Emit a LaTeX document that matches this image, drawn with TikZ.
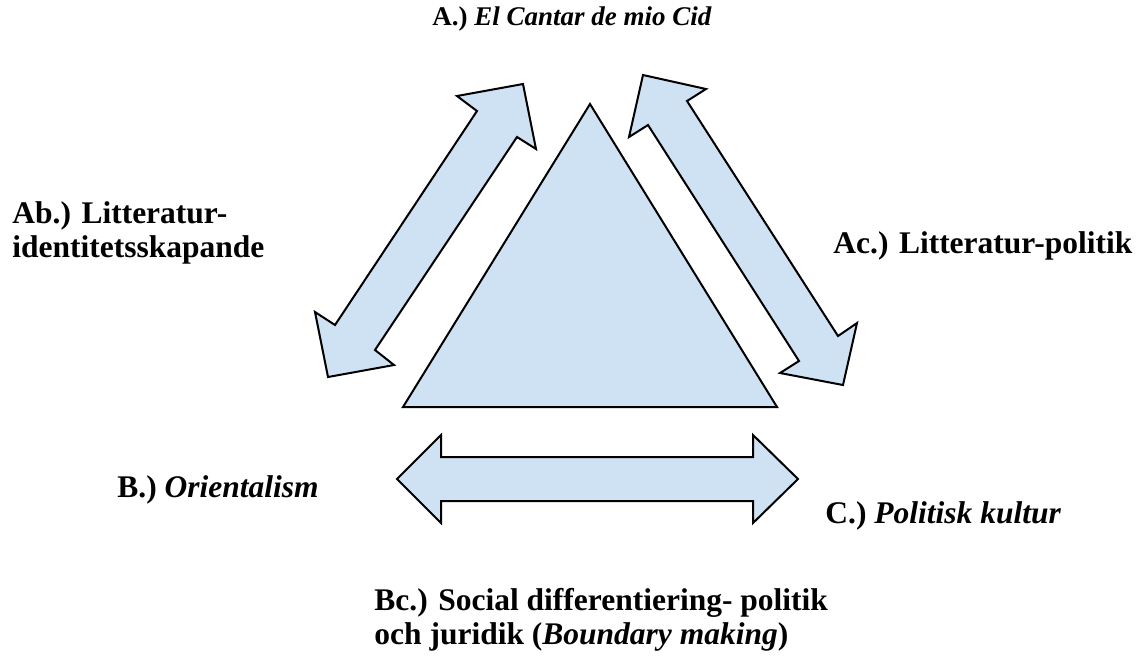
\documentclass[tikz,border=0pt]{standalone}
\usepackage{fontspec}
\setmainfont{Liberation Serif}
\definecolor{lightblue}{HTML}{CFE2F3}

\begin{document}
\begin{tikzpicture}[
    x=0.5pt, y=-0.5pt,
    bluefill/.style={draw=black, fill=lightblue, line width=1pt, line join=miter},
    labeltext/.style={inner sep=0pt, align=left, font=\fontsize{15.75}{17}\selectfont\bfseries},
    titletext/.style={labeltext, font=\fontsize{13.5}{16}\selectfont\bfseries}
]
\useasboundingbox (0,0) rectangle (1138,661);

% Wierzchołki trójkąta
\coordinate (top) at (590,104);
\coordinate (right) at (777,407);
\coordinate (left) at (403,407);

% Trójkąt
\draw[bluefill] (top) -- (right) -- (left) -- cycle;

% Strzałka po lewej stronie (Ab)
\draw[bluefill] (523,84) -- (457,96) -- (477,111) -- (335,325) -- (315,312) -- (328,377)
    -- (394,365) -- (375,350) -- (517,137) -- (536,149) -- cycle;

% Strzałka po prawej stronie (Ac)
\draw[bluefill] (643,75) -- (706,89) -- (687,101) -- (838,336) -- (857,323) -- (843,385)
    -- (780,373) -- (799,361) -- (648,125) -- (629,137) -- cycle;

% Strzałka pozioma (Bc)
\draw[bluefill] (397,479) -- (441,435) -- (441,457) -- (753,457) -- (753,435) -- (798,479)
    -- (753,523) -- (753,501) -- (441,501) -- (441,523) -- cycle;

% Etykiety
\node[titletext, anchor=base west] (labA) at (432,25) {A.) \textit{El Cantar de mio Cid}};
\node[labeltext, anchor=north west] (labAb) at (12,201) {Ab.) Litteratur-\\identitetsskapande};
\node[labeltext, anchor=base west] (labAc) at (833,253) {Ac.) Litteratur-politik};
\node[labeltext, anchor=base west] (labB) at (117,497) {B.) \textit{Orientalism}};
\node[labeltext, anchor=base west] (labC) at (825,523) {C.) \textit{Politisk kultur}};
\node[labeltext, anchor=north west] (labBc) at (374,588) {Bc.) Social differentiering- politik\\och juridik (\textit{Boundary making})};

\end{tikzpicture}
\end{document}
